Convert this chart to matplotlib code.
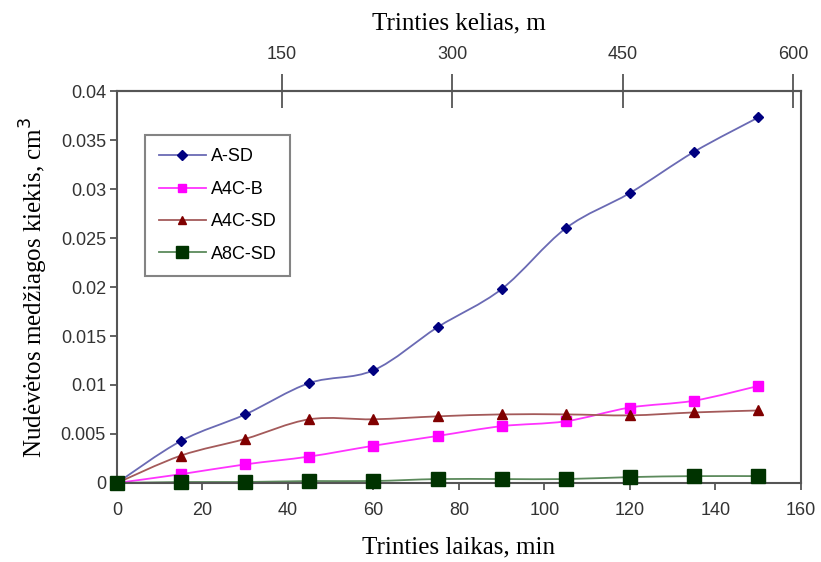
import numpy as np
import matplotlib.pyplot as plt
from matplotlib.path import Path
from matplotlib.patches import PathPatch
from matplotlib.lines import Line2D

plt.rcParams['font.family'] = ['Liberation Sans', 'DejaVu Sans']

# trinties laikas, min
time_min = [0, 15, 30, 45, 60, 75, 90, 105, 120, 135, 150]

a_sd = [0, 0.0043, 0.0070, 0.0102, 0.0115, 0.0159, 0.0198, 0.0260, 0.0296, 0.0338, 0.0373]
a4c_b = [0, 0.0009, 0.0019, 0.0027, 0.0038, 0.0048, 0.0058, 0.0063, 0.0077, 0.0084, 0.0099]
a4c_sd = [0, 0.0028, 0.0045, 0.0065, 0.0065, 0.0068, 0.0070, 0.0070, 0.0069, 0.0072, 0.0074]
a8c_sd = [0, 0.0001, 0.0001, 0.0002, 0.0002, 0.0004, 0.0004, 0.0004, 0.0006, 0.0007, 0.0007]

series = [
    ('A-SD', a_sd, '#000080', '#6a6ab4', 'D', 5.5),
    ('A4C-B', a4c_b, '#ff00ff', '#ff33ff', 's', 7),
    ('A4C-SD', a4c_sd, '#800000', '#a45a5a', '^', 7),
    ('A8C-SD', a8c_sd, '#003300', '#5c8a5c', 's', 10),
]

top_ticks = [150, 300, 450, 600]


def smooth_path(x, y, k=1/6):
    # Bezier segments like a spreadsheet "smoothed line"
    x = np.asarray(x, float)
    y = np.asarray(y, float)
    verts = [(x[0], y[0])]
    codes = [Path.MOVETO]
    n = len(x)
    for i in range(n - 1):
        i0 = max(i - 1, 0)
        i3 = min(i + 2, n - 1)
        c1 = (x[i] + (x[i + 1] - x[i0]) * k, y[i] + (y[i + 1] - y[i0]) * k)
        c2 = (x[i + 1] - (x[i3] - x[i]) * k, y[i + 1] - (y[i3] - y[i]) * k)
        verts += [c1, c2, (x[i + 1], y[i + 1])]
        codes += [Path.CURVE4] * 3
    return Path(verts, codes)


fig = plt.figure(figsize=(8.21, 5.62), dpi=100)
ax = fig.add_axes([0.1425, 0.1406, 0.8331, 0.6974])

handles = []
for name, vals, mcol, lcol, mk, ms in series:
    ax.add_patch(PathPatch(smooth_path(time_min, vals), facecolor='none',
                           edgecolor=lcol, lw=1.3, zorder=2))
    ax.plot(time_min, vals, linestyle='none', marker=mk, color=mcol,
            markersize=ms, zorder=3, clip_on=False)
    handles.append(Line2D([], [], color=lcol, lw=1.3, marker=mk,
                          markerfacecolor=mcol, markeredgecolor=mcol,
                          markersize=ms * 0.9, label=name))

ax.set_xlim(0, 160)
ax.set_ylim(0, 0.04)
ax.set_xticks(np.arange(0, 161, 20))
ax.set_yticks(np.arange(0, 0.0401, 0.005))
ax.set_yticklabels(['0', '0.005', '0.01', '0.015', '0.02', '0.025', '0.03', '0.035', '0.04'])

for s in ax.spines.values():
    s.set_color('#555555')
    s.set_linewidth(1.5)
ax.tick_params(axis='both', direction='out', length=5, width=1.3,
               color='#555555', labelsize=13, labelcolor='#333333', pad=3)
ax.tick_params(axis='x', pad=9)

ax.set_xlabel('Trinties laikas, min', family='Liberation Serif', fontsize=18,
              labelpad=12)
ax.set_ylabel('Nudėvėtos medžiagos kiekis, cm$^3$', family='Liberation Serif',
              fontsize=18, labelpad=8)

# viršutinė ašis - trinties kelias
secax = ax.secondary_xaxis('top', functions=(lambda t: 3.765 * t + 4.67,
                                             lambda m: (m - 4.67) / 3.765))
secax.set_xticks(top_ticks)
secax.spines['top'].set_color('#555555')
secax.spines['top'].set_linewidth(1.5)
secax.tick_params(direction='inout', length=24, width=1.3, color='#555555',
                  labelsize=13, labelcolor='#333333', pad=8)
secax.set_xlabel('Trinties kelias, m', family='Liberation Serif', fontsize=18,
                 labelpad=12)

leg = ax.legend(handles=handles, loc='upper left', bbox_to_anchor=(0.041, 0.888),
                borderaxespad=0, frameon=True, fancybox=False, fontsize=13,
                handlelength=2.6, labelspacing=0.85, borderpad=0.75,
                handletextpad=0.3)
leg.get_frame().set_edgecolor('#666666')
leg.get_frame().set_linewidth(1.5)

fig.savefig('out.png', dpi=100)
